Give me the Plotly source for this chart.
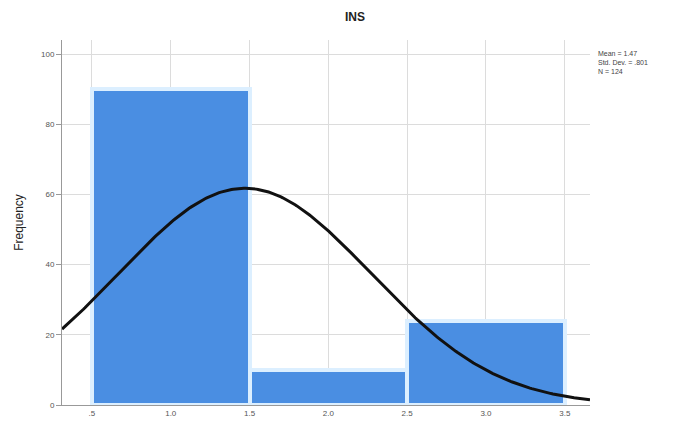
import numpy as np
import plotly.graph_objects as go

bin_centers = [1.0, 2.0, 3.0]
frequencies = [90, 10, 24]
bin_width = 1.0
x_tick_vals = [0.5, 1.0, 1.5, 2.0, 2.5, 3.0, 3.5]
x_tick_text = [".5", "1.0", "1.5", "2.0", "2.5", "3.0", "3.5"]
y_tick_vals = [0, 20, 40, 60, 80, 100]
mean_val = 1.47
std_val = 0.801
n_val = 124

fig = go.Figure()
fig.add_trace(go.Bar(
    x=bin_centers, y=frequencies, width=bin_width,
    marker=dict(color="#4a8ee2", line=dict(color="#dcefff", width=4)),
    showlegend=False, hoverinfo="skip"))

xs = np.linspace(0.31, 3.66, 300)
ys = n_val * bin_width / (std_val * np.sqrt(2 * np.pi)) * np.exp(-0.5 * ((xs - mean_val) / std_val) ** 2)
fig.add_trace(go.Scatter(x=xs, y=ys, mode="lines",
                         line=dict(color="#111111", width=3), showlegend=False, hoverinfo="skip"))

fig.update_layout(
    width=665, height=425,
    margin=dict(l=54, r=83, t=32, b=28),
    paper_bgcolor="white", plot_bgcolor="white",
    font=dict(family="Liberation Sans, Arial", color="#333"),
    bargap=0,
)
fig.update_xaxes(range=[0.31, 3.66], tickvals=x_tick_vals, ticktext=x_tick_text,
                 showgrid=True, gridcolor="#dcdcdc", gridwidth=1,
                 showline=True, linecolor="#999", linewidth=1,
                 ticks="", tickfont=dict(size=8, color="#555"), zeroline=False)
fig.update_yaxes(range=[0, 104], tickvals=y_tick_vals,
                 showgrid=True, gridcolor="#dcdcdc", gridwidth=1,
                 showline=True, linecolor="#999", linewidth=1,
                 ticks="outside", ticklen=5, tickcolor="#999",
                 tickfont=dict(size=8, color="#555"), zeroline=False,
                 title=dict(text="Frequency", font=dict(size=12, color="#222"), standoff=14))

fig.add_annotation(text="<b>INS</b>", xref="paper", yref="paper",
                   x=(355 - 62) / 528, y=1.0, yshift=32, showarrow=False,
                   font=dict(size=12, color="#222"))
fig.add_annotation(text=f"Mean = {mean_val:.2f}<br>Std. Dev. = .{int(round(std_val*1000)):03d}<br>N = {n_val}",
                   xref="paper", yref="paper", x=1.0, xshift=6, y=(405 - 48) / 365,
                   xanchor="left", yanchor="top", align="left", showarrow=False,
                   font=dict(size=7, color="#444"))

fig.write_html("out.html")
